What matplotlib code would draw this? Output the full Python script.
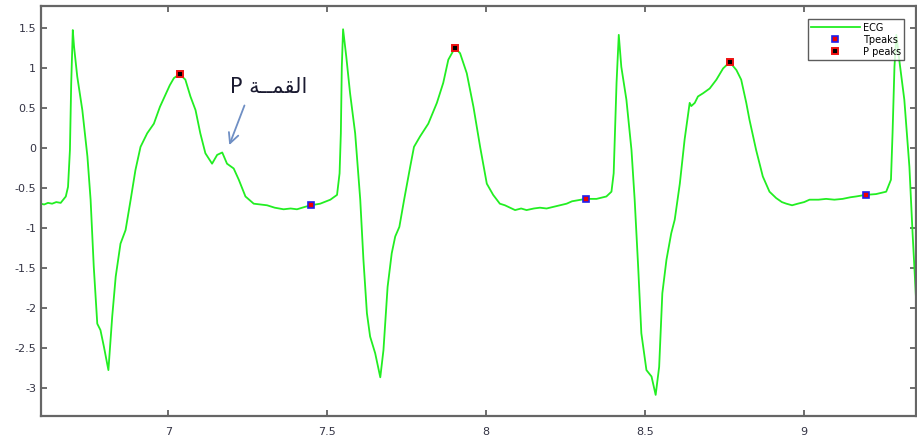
import matplotlib
matplotlib.use("Agg")
import matplotlib.pyplot as plt

# ECG trace (time in s, amplitude)
t = [6.590, 6.599, 6.610, 6.622, 6.635, 6.648, 6.662, 6.678, 6.685, 6.691, 6.695, 6.700,
     6.704, 6.714, 6.730, 6.746, 6.756, 6.766, 6.777, 6.787, 6.798, 6.812, 6.824,
     6.835, 6.850, 6.866, 6.882, 6.897, 6.913, 6.934, 6.955, 6.974, 7.005, 7.018,
     7.036, 7.054, 7.070, 7.086, 7.101, 7.117, 7.138, 7.154, 7.170, 7.185, 7.206,
     7.222, 7.243, 7.269, 7.290, 7.311, 7.335, 7.363, 7.385, 7.405, 7.430, 7.449,
     7.478, 7.510, 7.531, 7.539, 7.543, 7.546, 7.550, 7.560, 7.572, 7.588, 7.604,
     7.614, 7.625, 7.635, 7.651, 7.667, 7.677, 7.690, 7.703, 7.714, 7.727, 7.742,
     7.761, 7.773, 7.792, 7.818, 7.845, 7.865, 7.881, 7.902, 7.918, 7.939, 7.960,
     7.981, 8.002, 8.022, 8.043, 8.059, 8.075, 8.091, 8.110, 8.127, 8.150, 8.169,
     8.190, 8.211, 8.232, 8.253, 8.270, 8.284, 8.313, 8.347, 8.378, 8.394, 8.401,
     8.405, 8.410, 8.417, 8.425, 8.441, 8.457, 8.467, 8.478, 8.488, 8.504, 8.520,
     8.533, 8.544, 8.554, 8.567, 8.582, 8.593, 8.609, 8.624, 8.640, 8.645, 8.656,
     8.666, 8.682, 8.703, 8.724, 8.745, 8.766, 8.787, 8.802, 8.818, 8.828, 8.849,
     8.870, 8.891, 8.912, 8.930, 8.944, 8.962, 8.980, 9.000, 9.017, 9.045, 9.069,
     9.095, 9.121, 9.145, 9.163, 9.193, 9.226, 9.258, 9.273, 9.278, 9.284, 9.290,
     9.299, 9.315, 9.331, 9.341, 9.352, 9.362]
ecg = [-0.70, -0.70, -0.71, -0.69, -0.70, -0.68, -0.69, -0.61, -0.49, -0.03, 0.80, 1.47,
       1.26, 0.89, 0.47, -0.11, -0.65, -1.49, -2.20, -2.28, -2.49, -2.78, -2.11,
       -1.61, -1.20, -1.03, -0.65, -0.28, 0.01, 0.18, 0.30, 0.51, 0.78, 0.87,
       0.92, 0.85, 0.64, 0.47, 0.18, -0.07, -0.20, -0.09, -0.06, -0.20, -0.26,
       -0.40, -0.61, -0.70, -0.71, -0.72, -0.75, -0.77, -0.76, -0.77, -0.74, -0.72,
       -0.70, -0.65, -0.59, -0.32, 0.18, 1.01, 1.48, 1.14, 0.68, 0.18, -0.65,
       -1.40, -2.07, -2.36, -2.57, -2.87, -2.53, -1.74, -1.32, -1.11, -0.99, -0.65,
       -0.24, 0.01, 0.14, 0.30, 0.56, 0.81, 1.10, 1.25, 1.18, 0.93, 0.51,
       0.01, -0.45, -0.59, -0.70, -0.72, -0.75, -0.78, -0.76, -0.78, -0.76, -0.75,
       -0.76, -0.74, -0.72, -0.70, -0.67, -0.66, -0.64, -0.64, -0.61, -0.55, -0.32,
       0.18, 0.81, 1.41, 1.01, 0.60, -0.03, -0.65, -1.49, -2.32, -2.78, -2.86,
       -3.09, -2.74, -1.82, -1.40, -1.07, -0.90, -0.45, 0.10, 0.56, 0.52, 0.56,
       0.64, 0.68, 0.74, 0.85, 0.99, 1.07, 0.97, 0.85, 0.56, 0.35, -0.03,
       -0.36, -0.55, -0.63, -0.68, -0.70, -0.72, -0.70, -0.68, -0.65, -0.65, -0.64,
       -0.65, -0.64, -0.62, -0.61, -0.59, -0.58, -0.55, -0.40, 0.18, 1.01, 1.41,
       1.10, 0.60, -0.24, -1.07, -1.90, -2.53]

# detected peaks
t_tpeaks = [7.449, 8.313, 9.193]
v_tpeaks = [-0.72, -0.64, -0.59]
t_ppeaks = [7.036, 7.902, 8.766]
v_ppeaks = [0.92, 1.25, 1.07]

xticks = [7, 7.5, 8, 8.5, 9]
xticklabels = ["7", "7.5", "8", "8.5", "9"]
yticks = [1.5, 1, 0.5, 0, -0.5, -1, -1.5, -2, -2.5, -3]
yticklabels = ["1.5", "1", "0.5", "0", "-0.5", "-1", "-1.5", "-2", "-2.5", "-3"]

# Arabic "القمة" (with kashida) in visual, shaped, left-to-right presentation forms
arabic_label = "\uFE94\u0640\u0640\uFEE4\uFED8\uFEDF\uFE8D"

fig = plt.figure(figsize=(9.17, 4.37), dpi=100)
ax = fig.add_axes([0.0447, 0.048, 0.9543, 0.9383])

ax.plot(t, ecg, color="#22ee22", lw=1.3, label="ECG")
ax.plot(t_tpeaks, v_tpeaks, ls="none", marker="s", ms=4.5, mfc="#ee0000",
        mec="#2020ee", mew=1.2, label="Tpeaks")
ax.plot(t_ppeaks, v_ppeaks, ls="none", marker="s", ms=4.5, mfc="#000000",
        mec="#ee1111", mew=1.4, label="P peaks")

ax.set_xlim(6.60, 9.352)
ax.set_ylim(-3.354, 1.771)
ax.set_xticks(xticks)
ax.set_xticklabels(xticklabels)
ax.set_yticks(yticks)
ax.set_yticklabels(yticklabels)
ax.tick_params(direction="in", top=True, right=True, length=4, width=1.2,
               colors="#555555", labelcolor="#333344", labelsize=8)
ax.tick_params(axis="x", pad=8)
for s in ax.spines.values():
    s.set_color("#666666")
    s.set_linewidth(1.6)

ax.annotate("", xy=(7.189, 0.0), xytext=(7.243, 0.56),
            arrowprops=dict(arrowstyle="->", color="#6f8fc4", lw=1.3,
                            mutation_scale=18))
ax.text(7.315, 0.76, "P " + arabic_label, fontsize=15, color="#1a1a30",
        ha="center", va="center")

leg = ax.legend(loc="upper right", fontsize=7, frameon=True, fancybox=False,
                edgecolor="#333333", handlelength=5.0, borderpad=0.35,
                labelspacing=0.2, handletextpad=0.3,
                bbox_to_anchor=(0.992, 0.979))
leg.get_frame().set_linewidth(1.0)

fig.savefig("out.png", dpi=100)
